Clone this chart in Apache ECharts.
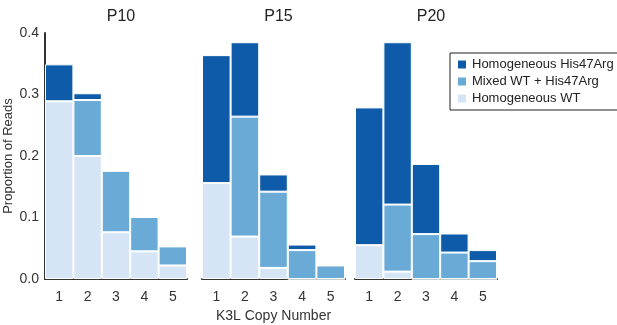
<!DOCTYPE html>
<html>
<head>
<meta charset="utf-8">
<script src="https://cdn.jsdelivr.net/npm/echarts@6/dist/echarts.min.js"></script>
<style>html,body{margin:0;padding:0;background:#fff}#c{width:617px;height:325px}</style>
</head>
<body>
<div id="c"></div>
<script>
const categories = ['1','2','3','4','5'];
const panels = ['P10','P15','P20'];
const seriesNames = ['Homogeneous WT','Mixed WT + His47Arg','Homogeneous His47Arg'];
const yTicks = [0, 0.1, 0.2, 0.3, 0.4];
// P10
const p10WT    = [0.289, 0.200, 0.076, 0.045, 0.022];
const p10Mixed = [0.000, 0.091, 0.100, 0.056, 0.031];
const p10His   = [0.060, 0.011, 0.000, 0.000, 0.000];
// P15
const p15WT    = [0.156, 0.069, 0.018, 0.000, 0.000];
const p15Mixed = [0.000, 0.195, 0.124, 0.047, 0.022];
const p15His   = [0.208, 0.121, 0.028, 0.009, 0.000];
// P20
const p20WT    = [0.055, 0.012, 0.000, 0.000, 0.000];
const p20Mixed = [0.000, 0.109, 0.073, 0.043, 0.029];
const p20His   = [0.224, 0.264, 0.114, 0.031, 0.018];

const panelData = [[p10WT,p10Mixed,p10His],[p15WT,p15Mixed,p15His],[p20WT,p20Mixed,p20His]];
const colors = ['#d6e5f6','#6aaad6','#0e5ca9'];
const font = 'Liberation Sans, Arial, sans-serif';
const lefts = [45, 202, 355];
const widths = [142, 143, 142];

const grids = [], xAxes = [], yAxes = [], series = [], titles = [];
panels.forEach((p, i) => {
  grids.push({left: lefts[i], width: widths[i], top: 33, height: 246, outerBoundsMode:'none', containLabel:false});
  xAxes.push({type:'category', gridIndex:i, data:categories,
    axisTick:{show:false}, axisLine:{lineStyle:{color:'#333',width:2}},
    axisLabel:{color:'#333',fontSize:14,fontFamily:font,margin:11},
    name: i===1 ? 'K3L Copy Number' : '', nameLocation:'middle', nameGap:30,
    nameTextStyle:{color:'#333',fontSize:14,fontFamily:font}});
  yAxes.push({type:'value', gridIndex:i, min:0, max:0.4, interval:0.1, show: i===0,
    splitLine:{show:false}, axisTick:{show:false},
    axisLine:{show:true,lineStyle:{color:'#333',width:2}},
    axisLabel:{color:'#333',fontSize:14,fontFamily:font,formatter:v=>v.toFixed(1),margin:6},
    name: i===0 ? 'Proportion of Reads' : '', nameLocation:'middle', nameGap:30,
    nameTextStyle:{color:'#333',fontSize:13,fontFamily:font}});
  titles.push({text:p, left: lefts[i] + widths[i]/2, top: 4, textAlign:'center',
    textStyle:{fontSize:16,fontWeight:'normal',color:'#222',fontFamily:font}});
  seriesNames.forEach((n, j) => {
    series.push({name:n, type:'bar', xAxisIndex:i, yAxisIndex:i, stack:'s'+i,
      data: panelData[i][j], barCategoryGap:'0%', itemStyle:{color:colors[j], borderColor:'#fff', borderWidth:1},
      emphasis:{disabled:true}});
  });
});

const chart = echarts.init(document.getElementById('c'));
chart.setOption({
  animation:false,
  title: titles,
  grid: grids, xAxis: xAxes, yAxis: yAxes, series: series,
  legend: {orient:'vertical', left:450, top:53, width:150,
    data:['Homogeneous His47Arg','Mixed WT + His47Arg','Homogeneous WT'],
    borderColor:'#222', borderWidth:1, padding:[5,12,5,6], itemGap:4,
    itemWidth:10, itemHeight:10, icon:'rect',
    textStyle:{fontSize:13,color:'#222',fontFamily:font}}
});
</script>
</body>
</html>
